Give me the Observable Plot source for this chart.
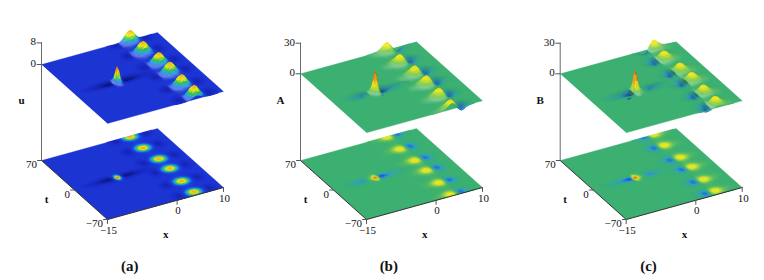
<!DOCTYPE html>
<html>
<head>
<meta charset="utf-8">
<script src="https://cdn.jsdelivr.net/npm/d3@7"></script>
<script src="https://cdn.jsdelivr.net/npm/@observablehq/plot@0.6"></script>
<style>html,body{margin:0;background:#fff}</style>
</head>
<body>
<div id="chart"></div>
<script>
// ---- readings from the picture ----
const panelNames = ["u", "A", "B"];
const panelTags = ["(a)", "(b)", "(c)"];
const zTicks = [[0, 8], [0, 30], [0, 30]];
const xTicks = [-15, 0, 10];
const tTicks = [70, 0, -70];

// travelling row of peaks: position and height per panel
const waveXu = [3.85, 3.95, 4.55, 4.6, 4.2, 4.25];
const waveTu = [68, 41.6, 13.7, -9.2, -38, -63.7];
const waveXA = [3.6, 3.55, 3.94, 4.0, 3.8, 3.55];
const waveTA = [69, 40.5, 12.5, -11.5, -40, -67];
const waveXB = [5.0, 4.7, 5.1, 5.3, 4.9, 4.76];
const waveTB = [70, 45, 15.2, -7.7, -36.3, -62.9];
const waveHeight = [4, 8, 8];

// central lump: position and height per panel
const lumpX = [-5.7, -5.9, -5.9];
const lumpT = [0.7, 0.7, 0.7];
const lumpHeight = [6, 24, 25];

// sections read across a wave peak (relative to its height)
const waveOffsetX = [-5, -4, -3.5, -3, -2.5, -2, -1.4, -0.9, -0.5, 0, 0.5, 0.9, 1.4, 2, 2.5, 3, 3.5, 4, 5];
const waveSectionU = [0, -0.03, -0.06, -0.06, -0.02, 0.06, 0.3, 0.62, 0.88, 1, 0.88, 0.62, 0.3, 0.06, -0.02, -0.06, -0.06, -0.03, 0];
const waveSectionA = [0, 0.02, 0.04, 0.07, 0.1, 0.17, 0.4, 0.68, 0.9, 1, 0.7, 0.28, -0.25, -0.55, -0.42, -0.2, -0.1, -0.05, 0];
const waveSectionB = [0, -0.05, -0.1, -0.2, -0.42, -0.55, -0.25, 0.28, 0.7, 1, 0.9, 0.68, 0.4, 0.17, 0.1, 0.07, 0.04, 0.02, 0];
const waveOffsetT = [-16, -12, -9, -6, -3, 0, 3, 6, 9, 12, 16];
const waveSectionT = [0, 0.04, 0.1, 0.35, 0.8, 1, 0.8, 0.35, 0.1, 0.04, 0];

// sections read across the central lump
const lumpOffsetX = [-8, -6, -4, -3, -2, -1.5, -1, -0.75, -0.5, -0.25, 0, 0.25, 0.5, 0.75, 1, 1.5, 2, 3, 4, 6, 8];
const lumpSectionU = [0, -0.02, -0.05, -0.08, -0.1, -0.09, -0.02, 0.08, 0.3, 0.72, 1, 0.72, 0.3, 0.08, -0.02, -0.09, -0.1, -0.08, -0.05, -0.02, 0];
const lumpSectionA = [0, -0.02, -0.08, -0.12, -0.05, 0.02, 0.08, 0.16, 0.3, 0.62, 1, 0.5, 0.1, -0.12, -0.24, -0.24, -0.17, -0.1, -0.06, -0.02, 0];
const lumpSectionB = [0, -0.02, -0.06, -0.1, -0.17, -0.24, -0.24, -0.12, 0.1, 0.5, 1, 0.62, 0.3, 0.16, 0.08, 0.02, -0.05, -0.12, -0.08, -0.02, 0];
const lumpOffsetT = [-10, -8, -6, -3.5, -1.5, 0, 1.5, 3.5, 6, 8, 10];
const lumpSectionT = [0, 0.03, 0.12, 0.4, 0.82, 1, 0.82, 0.4, 0.12, 0.03, 0];

// height colour ramps
const uStops = [-0.6, -0.05, 0.4, 1.1, 1.8, 2.6, 4.4, 5.6];
const uColors = ["#0b1470", "#1c30d0", "#1c50e0", "#20b8e0", "#40c840", "#f4f418", "#f09020", "#d02010"];
const abStops = [-8, -4.5, -2, 0, 2.5, 6, 12, 18, 24];
const abColors = ["#1020c0", "#2060d8", "#30a0c8", "#3cb071", "#90d050", "#f4f020", "#f0a020", "#e06010", "#c01010"];

// ---- layout of the 3-D box ----
const left = [41, 300, 559.7];
const topBase = [64, 73.3, 73.3];
const floorBase = 160;
const zPx = [2.7, 1.02, 1.02];
const ramp = (d, r) => d3.scaleLinear().domain(d).range(r).clamp(true);
const colourOf = [ramp(uStops, uColors), ramp(abStops, abColors), ramp(abStops, abColors)];

function proj(p, x, t, z, base) {
  const a = (x + 15) / 25, b = (70 - t) / 140;
  return [left[p] + 116 * a + 66 * b, base - 32 * a + 59 * b - z * zPx[p]];
}

const waves = [[waveXu, waveTu, waveSectionU], [waveXA, waveTA, waveSectionA], [waveXB, waveTB, waveSectionB]];
const lumps = [lumpSectionU, lumpSectionA, lumpSectionB];

function heightField(p) {
  const wx = ramp(waveOffsetX, waves[p][2]), wt = ramp(waveOffsetT, waveSectionT);
  const lx = ramp(lumpOffsetX, lumps[p]), lt = ramp(lumpOffsetT, lumpSectionT);
  return (x, t) => {
    let z = lumpHeight[p] * lx(x - lumpX[p]) * lt(t - lumpT[p]);
    waves[p][0].forEach((x0, i) => { z += waveHeight[p] * wx(x - x0) * wt(t - waves[p][1][i]); });
    return z;
  };
}

// mesh of the surface, back to front
const dx = 0.25, dt = 1.5;
const quads = [];
let id = 0;
function addSurface(p, base, lit) {
  const f = heightField(p), col = colourOf[p];
  const limit = p === 0 ? 0.03 : 0.12;
  for (let t = 70; t > -70; t -= dt) {
    const t2 = Math.max(t - dt, -70);
    for (let x = 10; x > -15; x -= dx) {
      const x2 = Math.max(x - dx, -15);
      const h = [f(x, t), f(x2, t), f(x2, t2), f(x, t2)];
      if (Math.max(...h.map(Math.abs)) < limit) continue;
      const m = d3.mean(h);
      let c = col(m);
      if (lit) {
        const k = zPx[p];
        // slope seen from the lamp at the lower left front
        const gx = k * ((h[0] + h[3]) - (h[1] + h[2])) / 2 / (dx * 4.8);
        const gt = k * ((h[2] + h[3]) - (h[0] + h[1])) / 2 / (dt * 0.63);
        const s = 0.75 * gx - 0.65 * gt;
        const lowFade = m < 0 ? 0 : Math.max(0, 1 - m / (0.3 * waveHeight[p]));
        if (s > 0) c = d3.interpolateRgb(c, "#fff")(Math.min(0.7, lowFade * 1.6 * s * Math.exp(-1.2 * s)));
        else c = d3.interpolateRgb(c, "#000")(Math.min(0.35, -0.18 * s));
        if (m < 0 && s > 0) c = d3.interpolateRgb(c, "#000")(Math.min(0.35, 0.25 * s));
      }
      const pts = [[x, t, h[0]], [x2, t, h[1]], [x2, t2, h[2]], [x, t2, h[3]]];
      for (const q of pts) {
        const [X, Y] = proj(p, q[0], q[1], lit ? q[2] : 0, base);
        quads.push({id, X, Y, c});
      }
      id++;
    }
  }
}

const plates = [], edges = [], zAxis = [], ticks = [], labels = [];
panelNames.forEach((name, p) => {
  const bg = colourOf[p](0);
  for (const [base, key] of [[topBase[p], "t"], [floorBase, "f"]]) {
    for (const [x, t] of [[-15, 70], [10, 70], [10, -70], [-15, -70]]) {
      const [X, Y] = proj(p, x, t, 0, base);
      plates.push({k: p + key, X, Y, c: bg});
    }
  }
  addSurface(p, topBase[p], true);
  addSurface(p, floorBase, false);
});
panelNames.forEach((name, p) => {
  const [tx, ty] = [left[p], topBase[p] - zTicks[p][1] * zPx[p]];
  zAxis.push({k: p, X: tx, Y: ty}, {k: p, X: tx, Y: floorBase});
  for (const z of zTicks[p]) {
    const Y = topBase[p] - z * zPx[p];
    ticks.push({k: `z${p}${z}`, X: tx - 4.5, Y}, {k: `z${p}${z}`, X: tx, Y});
    labels.push({X: tx - 5.5, Y: Y - 1, s: String(z), a: "end", b: false, f: 11});
  }
  for (const [x, t] of [[-15, 70], [-15, -70], [10, -70]]) {
    const [X, Y] = proj(p, x, t, 0, floorBase);
    edges.push({k: p + "e", X, Y});
  }
  for (const x of xTicks) {
    const [X, Y] = proj(p, x, -70, 0, floorBase);
    ticks.push({k: `x${p}${x}`, X, Y}, {k: `x${p}${x}`, X, Y: Y + 4});
    labels.push({X: X + 1, Y: Y + 10.5, s: String(x).replace("-", "\u2212"), a: "middle", b: false, f: 11});
  }
  for (const t of tTicks) {
    const [X, Y] = proj(p, -15, t, 0, floorBase);
    ticks.push({k: `t${p}${t}`, X: X - 4, Y}, {k: `t${p}${t}`, X, Y});
    labels.push({X: X - 4.5, Y: Y + 4, s: String(t).replace("-", "\u2212"), a: "end", b: false, f: 11});
  }
  const l = left[p];
  labels.push({X: l - 20, Y: 100, s: name, a: "middle", b: true, f: 11});
  labels.push({X: l + 5, Y: 198.7, s: "t", a: "middle", b: true, f: 11});
  labels.push({X: l + 124.3, Y: 233.7, s: "x", a: "middle", b: true, f: 11});
  labels.push({X: l + 88.3, Y: 266, s: panelTags[p], a: "middle", b: true, f: 15});
});

const chart = Plot.plot({
  width: 764, height: 280, margin: 0,
  x: {domain: [0, 764], range: [0, 764], axis: null},
  y: {domain: [0, 280], range: [0, 280], axis: null},
  style: {background: "#fff"},
  marks: [
    Plot.line(zAxis, {x: "X", y: "Y", z: "k", stroke: "#6a6a6a", strokeWidth: 1}),
    Plot.line(plates, {x: "X", y: "Y", z: "k", fill: "c", stroke: "c", strokeWidth: 0.3}),
    Plot.line(quads, {x: "X", y: "Y", z: "id", fill: "c", stroke: "c", strokeWidth: 0.4}),
    Plot.line(edges, {x: "X", y: "Y", z: "k", stroke: "#333", strokeWidth: 1}),
    Plot.line(ticks, {x: "X", y: "Y", z: "k", stroke: "#555", strokeWidth: 1}),
    ...[false, true].flatMap(b => ["middle", "end"].flatMap(a =>
      [11, 15].map(f => Plot.text(labels.filter(d => d.b === b && d.a === a && d.f === f), {
        x: "X", y: "Y", text: "s", textAnchor: a, fontWeight: b ? "bold" : "normal", fontSize: f, fill: "#111",
        fontFamily: "Liberation Serif"
      }))))
  ]
});
document.getElementById("chart").appendChild(chart);
</script>
</body>
</html>
